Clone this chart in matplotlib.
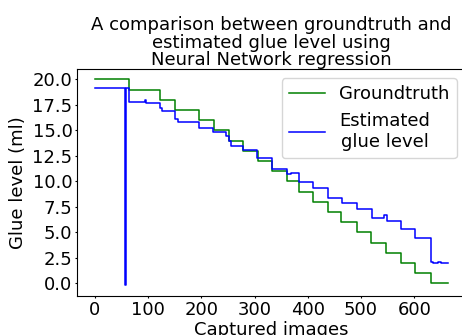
import matplotlib
matplotlib.use("Agg")
import matplotlib.pyplot as plt

# groundtruth: image index where each level starts, and the level (ml)
gt_start = [0, 64, 122, 150, 196, 224, 251, 279, 306, 332, 360, 384,
            410, 438, 463, 492, 518, 546, 575, 602, 631, 664]
gt_level = [20, 19, 18, 17, 16, 15, 14, 13, 12, 11, 10, 9,
            8, 7, 6, 5, 4, 3, 2, 1, 0, 0]

# neural network estimate (piecewise levels)
est_start = [0, 57, 58, 64, 94, 95, 122, 126, 151, 156, 196, 222, 247,
             251, 255, 279, 305, 332, 360, 368, 384, 410, 438, 465, 492,
             520, 544, 548, 576, 602, 631, 636, 645, 650, 664]
est_level = [19.1, -0.2, 19.1, 17.8, 18.0, 17.7, 17.2, 16.9, 16.1, 15.8,
             15.25, 14.8, 14.4, 14.0, 13.5, 13.05, 12.25, 11.25, 10.7,
             10.85, 9.9, 9.3, 8.35, 7.9, 7.3, 6.4, 6.7, 6.1, 5.3, 4.45,
             2.1, 1.95, 2.05, 1.95, 1.95]

plt.rcParams["font.size"] = 13
plt.rcParams["xtick.major.size"] = 1.5
plt.rcParams["ytick.major.size"] = 1.5
plt.rcParams["xtick.major.pad"] = 2.5
plt.rcParams["ytick.major.pad"] = 2.0

fig = plt.figure(figsize=(4.62, 3.35), dpi=100)
# axes run slightly past the right edge, as in the cropped original
ax = fig.add_axes([0.1673, 0.1173, 0.8413, 0.6767])

ax.step(gt_start, gt_level, where="post", color="green", lw=1.1,
        label="Groundtruth")
ax.step(est_start, est_level, where="post", color="blue", lw=1.1,
        label="Estimated\nglue level")

ax.set_xticks([0, 100, 200, 300, 400, 500, 600])
ax.set_yticks([0, 2.5, 5, 7.5, 10, 12.5, 15, 17.5, 20])
ax.set_xlabel("Captured images", labelpad=1)
ax.set_ylabel("Glue level (ml)")
ax.set_title("A comparison between groundtruth and\nestimated glue level using\n"
             "Neural Network regression", fontsize=13, linespacing=0.95, pad=1)
leg = ax.legend(loc="upper right")
for t in leg.get_texts():
    t.set_multialignment("center")

fig.savefig("out.png", dpi=100)
